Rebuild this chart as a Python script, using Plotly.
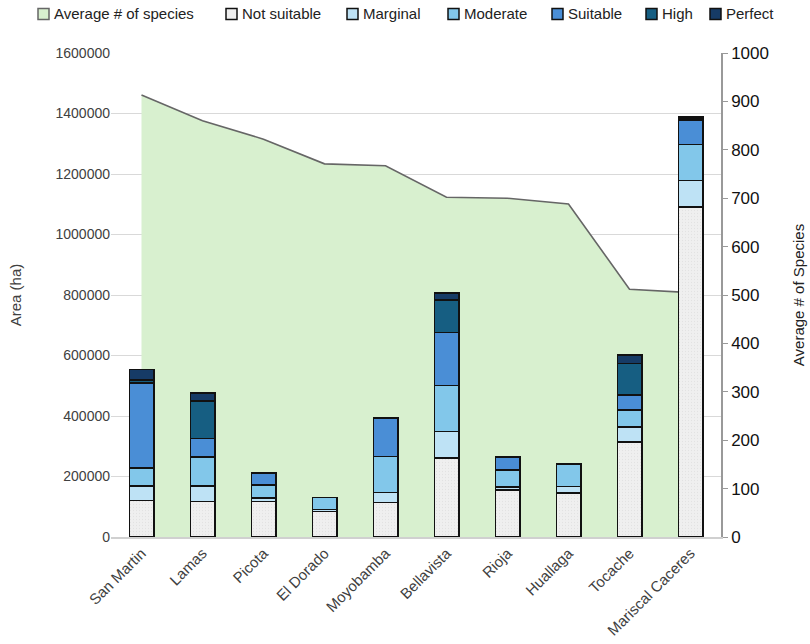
import plotly.graph_objects as go

provinces = ["San Martin", "Lamas", "Picota", "El Dorado", "Moyobamba",
             "Bellavista", "Rioja", "Huallaga", "Tocache", "Mariscal Caceres"]

# Average number of species per province (right axis)
avg_species = [913, 860, 822, 771, 767, 702, 700, 688, 512, 505]

# Area (ha) per suitability class
not_suitable = [121000, 118000, 118000, 84000, 114500, 261000, 155500, 145500, 315000, 1090000]
marginal = [48500, 50500, 10000, 7500, 32000, 88000, 9000, 21000, 49500, 89000]
moderate = [59500, 96000, 43000, 39500, 119000, 152000, 57000, 74000, 56000, 119000]
suitable = [281000, 60500, 40500, 0, 128000, 175500, 43000, 3000, 49500, 80500]
high = [9000, 124500, 0, 0, 0, 107000, 0, 0, 104000, 3000]
perfect = [35000, 26500, 0, 0, 0, 24000, 0, 0, 27500, 6000]

classes = [
    ("Not suitable", not_suitable, "#EFEFEF"),
    ("Marginal", marginal, "#BEE2F5"),
    ("Moderate", moderate, "#82C7EA"),
    ("Suitable", suitable, "#4A8ED6"),
    ("High", high, "#165E82"),
    ("Perfect", perfect, "#163B66"),
]

AREA_NAME = "Average # of species"
AREA_FILL = "#D8F0CF"
AREA_LINE = "#666666"

AREA_MAX = 1600000
AREA_STEP = 200000
SPECIES_MAX = 1000

# Figure geometry (pixels)
W, H = 810, 644
ML, MR, MT, MB = 111, 89, 53, 107
PW, PH = W - ML - MR, H - MT - MB

# Area gridlines expressed in species-axis units so they sit under the filled area
grid_vals = [v * SPECIES_MAX / AREA_MAX for v in range(0, AREA_MAX + 1, AREA_STEP)]

fig = go.Figure()

fig.add_trace(go.Scatter(
    x=provinces, y=avg_species, name=AREA_NAME,
    mode="lines", fill="tozeroy", fillcolor=AREA_FILL,
    line=dict(color=AREA_LINE, width=1.6),
    yaxis="y", showlegend=False,
))

for name, vals, color in classes:
    marker = dict(color=color, line=dict(color="#111111", width=1.6))
    if name == "Not suitable":
        # fine speckled texture on the unsuitable share
        marker["pattern"] = dict(shape=".", size=3, solidity=0.15,
                                 fgcolor="#D6D6D6", fillmode="overlay")
    fig.add_trace(go.Bar(
        x=provinces, y=vals, name=name, marker=marker,
        width=0.4, yaxis="y2", showlegend=False,
    ))

# Single-row key across the top of the figure
legend_items = [(AREA_NAME, AREA_FILL, AREA_LINE)] + [(n, c, "#111111") for n, _, c in classes]
legend_left = [38, 226, 347, 448, 552, 646, 710]
key_y, box = 14, 11


def px_x(p):
    return (p - ML) / PW


def px_y(p):
    return (H - MB - p) / PH


for (label, fillc, edge), left in zip(legend_items, legend_left):
    fig.add_shape(
        type="rect", xref="paper", yref="paper",
        x0=px_x(left), x1=px_x(left + box),
        y0=px_y(key_y - box / 2), y1=px_y(key_y + box / 2),
        fillcolor=fillc, line=dict(color=edge, width=1.5), layer="above",
    )
    fig.add_annotation(
        xref="paper", yref="paper", x=px_x(left + box + 3), y=px_y(key_y),
        xanchor="left", yanchor="middle", text=label, showarrow=False,
        font=dict(family="Liberation Sans, Arial, sans-serif", size=15, color="#222222"),
    )

fig.update_layout(
    width=W, height=H,
    margin=dict(l=ML, r=MR, t=MT, b=MB, autoexpand=False),
    paper_bgcolor="white", plot_bgcolor="white",
    barmode="stack", showlegend=False,
    font=dict(family="Liberation Sans, Arial, sans-serif", color="#404040"),
    xaxis=dict(
        type="category", range=[-0.5, 9.5], tickangle=-45,
        tickfont=dict(family="Liberation Sans, Arial, sans-serif", size=15, color="#404040"),
        showline=True, linecolor="#D0D0D0", linewidth=1.5,
        showgrid=False, ticks="",
    ),
    yaxis=dict(
        side="right", range=[0, SPECIES_MAX], dtick=100,
        showgrid=False, showline=True, linecolor="#999999", linewidth=1.5,
        ticks="outside", ticklen=5, tickcolor="#999999",
        tickfont=dict(size=17, color="#111111"),
        title=dict(text="Average # of Species", font=dict(size=15, color="#222222"), standoff=26),
        zeroline=False,
        minor=dict(tickvals=grid_vals, showgrid=True, gridcolor="#D9D9D9", gridwidth=1, ticks=""),
    ),
    yaxis2=dict(
        side="left", overlaying="y", range=[0, AREA_MAX], dtick=AREA_STEP,
        showgrid=False,
        tickformat="d", tickfont=dict(size=14, color="#404040"),
        ticks="", showline=False, zeroline=False,
        title=dict(text="Area (ha)", font=dict(size=15, color="#404040"), standoff=30),
    ),
)

fig.write_html("out.html")
